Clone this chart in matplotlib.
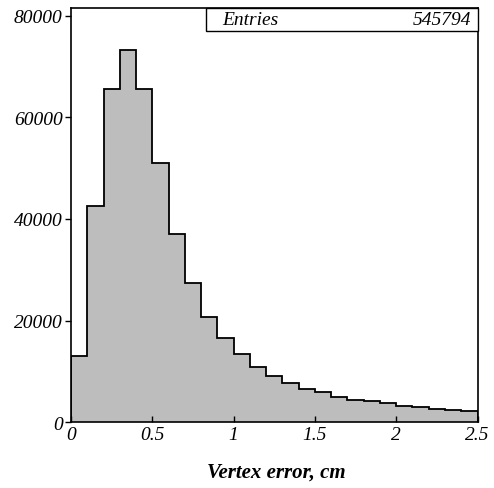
import numpy as np
import matplotlib
matplotlib.use("Agg")
import matplotlib.pyplot as plt
from matplotlib.patches import Rectangle

# Data
bin_edges = np.linspace(0.0, 2.5, 26)
counts = [13100, 42500, 65500, 73200, 65500, 51000, 37100, 27500, 20800, 16500,
          13400, 10900, 9200, 7700, 6550, 5900, 4900, 4440, 4130, 3735,
          3260, 3010, 2615, 2420, 2160]
x_ticks = [0, 0.5, 1, 1.5, 2, 2.5]
x_ticklabels = ["0", "0.5", "1", "1.5", "2", "2.5"]
y_ticks = [0, 20000, 40000, 60000, 80000]
y_ticklabels = ["0", "20000", "40000", "60000", "80000"]
entries_label = "Entries"
entries_value = "545794"
xlabel = "Vertex error, cm"

plt.rcParams['font.family'] = ['Liberation Serif', 'DejaVu Serif']

fig = plt.figure(figsize=(4.94, 4.89), dpi=100)
ax = fig.add_axes([71/494, (489-423.3)/489, (477.5-71)/494, (423.3-9)/489])

ax.stairs(counts, bin_edges, fill=True, facecolor='#bdbdbd', edgecolor='none')
ax.stairs(counts, bin_edges, fill=False, baseline=0, edgecolor='black', linewidth=1.3)

ax.set_xlim(0, 2.5)
ax.set_ylim(0, 81500)

ax.set_xticks(x_ticks)
ax.set_xticklabels(x_ticklabels, fontsize=14, style='italic')
ax.set_yticks(y_ticks)
ax.set_yticklabels(y_ticklabels, fontsize=14, style='italic')
ax.tick_params(axis='x', direction='in', length=4, pad=3, width=1)
ax.tick_params(axis='y', direction='out', length=4, pad=2, width=1)

for s in ax.spines.values():
    s.set_linewidth(1.2)
    s.set_color('black')

# Stats box
bx0 = (206-71)/406.5
by0 = 1 - (32-9)/414.3
rect = Rectangle((bx0, by0), 1 - bx0, 1.0 - by0, transform=ax.transAxes,
                 facecolor='white', edgecolor='black', linewidth=1.0, clip_on=False, zorder=5)
ax.add_patch(rect)
ax.text(bx0 + 0.04, (by0 + 1) / 2, entries_label, transform=ax.transAxes, fontsize=14,
        style='italic', ha='left', va='center', zorder=6)
ax.text(0.985, (by0 + 1) / 2, entries_value, transform=ax.transAxes, fontsize=14,
        style='italic', ha='right', va='center', zorder=6)

fig.text(276/494, 1 - 473/489, xlabel, fontsize=15, style='italic', weight='bold',
         ha='center', va='center')

fig.savefig("out.png", dpi=100)
